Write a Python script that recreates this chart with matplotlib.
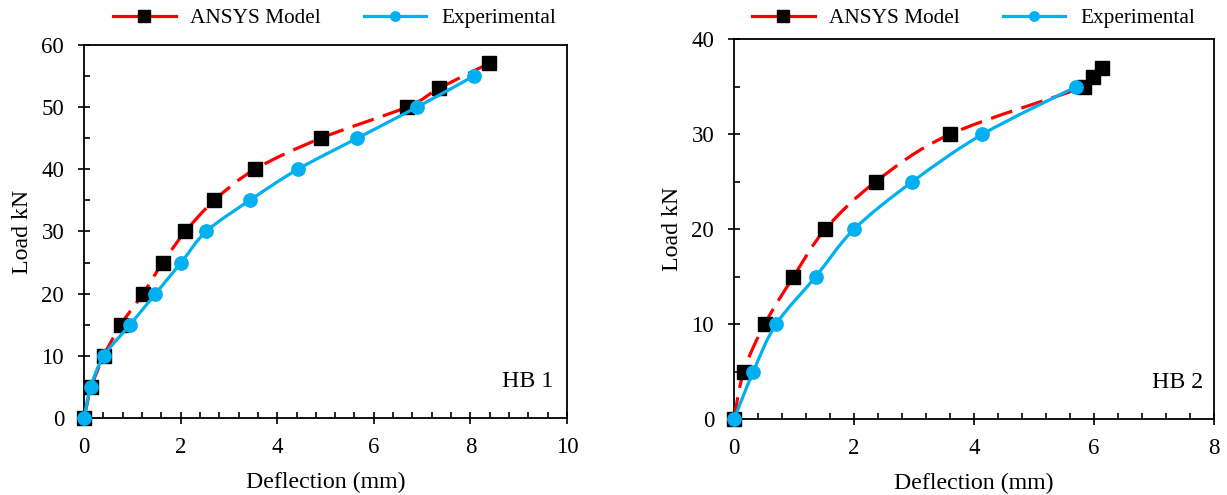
import numpy as np
import matplotlib
matplotlib.use("Agg")
import matplotlib.pyplot as plt
from matplotlib.path import Path
from matplotlib.patches import PathPatch
from matplotlib.lines import Line2D
from matplotlib.ticker import MultipleLocator

# ---------------- data ----------------
hb1_ansys_defl = [0, 0.15, 0.41, 0.76, 1.22, 1.63, 2.10, 2.70, 3.54, 4.91, 6.69, 7.35, 8.39]
hb1_ansys_load = [0, 5, 10, 15, 20, 25, 30, 35, 40, 45, 50, 53, 57]
hb1_exp_defl = [0, 0.14, 0.41, 0.95, 1.48, 2.01, 2.53, 3.43, 4.43, 5.66, 6.90, 8.08]
hb1_exp_load = [0, 5, 10, 15, 20, 25, 30, 35, 40, 45, 50, 55]

hb2_ansys_defl = [0, 0.16, 0.51, 0.99, 1.52, 2.36, 3.60, 5.83, 5.99, 6.13]
hb2_ansys_load = [0, 5, 10, 15, 20, 25, 30, 35, 36, 37]
hb2_exp_defl = [0, 0.32, 0.70, 1.36, 2.00, 2.97, 4.14, 5.70]
hb2_exp_load = [0, 5, 10, 15, 20, 25, 30, 35]

series_names = ["ANSYS Model", "Experimental"]
panel_labels = ["HB 1", "HB 2"]
x_label = "Deflection (mm)"
y_label = "Load kN"

RED = "#FF0000"
BLUE = "#00B0F0"
FS_TICK = 16.5
FS_LABEL = 17.2
FS_LEG = 15.3

plt.rcParams["font.family"] = ["Liberation Serif", "DejaVu Serif"]
plt.rcParams["font.size"] = FS_TICK

fig = plt.figure(figsize=(12.27, 4.95), dpi=100)
W, H = 1227.0, 495.0
ax1 = fig.add_axes([84 / W, 1 - 418.3 / H, 483 / W, 373.6 / H])
ax2 = fig.add_axes([734 / W, 1 - 419.3 / H, 480 / W, 380 / H])


def smooth_line(ax, xs, ys, **kw):
    """Excel-style smoothed line (cubic Bezier through the data points)."""
    pts = ax.transData.transform(np.column_stack([xs, ys]))
    n = len(pts)
    verts = [pts[0]]
    codes = [Path.MOVETO]
    for i in range(n - 1):
        p0 = pts[i - 1] if i > 0 else pts[i]
        p1 = pts[i]
        p2 = pts[i + 1]
        p3 = pts[i + 2] if i + 2 < n else pts[i + 1]
        c1 = p1 + (p2 - p0) / 6.0
        c2 = p2 - (p3 - p1) / 6.0
        verts += [c1, c2, p2]
        codes += [Path.CURVE4] * 3
    verts = ax.transData.inverted().transform(np.array(verts))
    patch = PathPatch(Path(verts, codes), fill=False, transform=ax.transData, **kw)
    ax.add_patch(patch)


def setup(ax, xmax, ymax):
    ax.set_xlim(0, xmax)
    ax.set_ylim(0, ymax)
    ax.xaxis.set_major_locator(MultipleLocator(2))
    ax.xaxis.set_minor_locator(MultipleLocator(0.4))
    ax.yaxis.set_major_locator(MultipleLocator(10))
    ax.yaxis.set_minor_locator(MultipleLocator(5))
    ax.tick_params(which="major", direction="inout", length=8.6, width=1.2,
                   labelsize=FS_TICK, pad=10, colors="black")
    ax.tick_params(which="minor", direction="in", length=4.3, width=1.2)
    ax.tick_params(axis="x", which="major", pad=9.5)
    for s in ax.spines.values():
        s.set_linewidth(1.3)
        s.set_color("black")
    ax.set_xlabel(x_label, fontsize=FS_LABEL, labelpad=10)
    ax.set_ylabel(y_label, fontsize=FS_LABEL, labelpad=6)


setup(ax1, 10, 60)
setup(ax2, 8, 40)

panels = [
    (ax1, hb1_ansys_defl, hb1_ansys_load, hb1_exp_defl, hb1_exp_load, panel_labels[0], 14),
    (ax2, hb2_ansys_defl, hb2_ansys_load, hb2_exp_defl, hb2_exp_load, panel_labels[1], 11),
]

for ax, ax_x, ax_y, ex_x, ex_y, lab, inset in panels:
    smooth_line(ax, ax_x, ax_y, edgecolor=RED, linewidth=2.3,
                linestyle=(0, (7.0, 3.0)), zorder=3, clip_on=False)
    ax.plot(ax_x, ax_y, linestyle="none", marker="s", markersize=10,
            color="black", zorder=4, clip_on=False)
    smooth_line(ax, ex_x, ex_y, edgecolor=BLUE, linewidth=2.3, zorder=5,
                clip_on=False)
    ax.plot(ex_x, ex_y, linestyle="none", marker="o", markersize=9.6,
            color=BLUE, zorder=6, clip_on=False)
    ax.annotate(lab, xy=(1, 0), xycoords="axes fraction",
                xytext=(-inset, 31), textcoords="offset pixels",
                ha="right", va="baseline", fontsize=FS_LABEL)

handles = [
    Line2D([], [], color=RED, linewidth=2.3, marker="s", markersize=8.4,
           markerfacecolor="black", markeredgecolor="black"),
    Line2D([], [], color=BLUE, linewidth=2.3, marker="o", markersize=6.8,
           markerfacecolor=BLUE, markeredgecolor=BLUE),
]
for cx in (334.5 / W, 973.5 / W):
    fig.legend(handles, series_names, loc="center", bbox_to_anchor=(cx, 1 - 18 / H),
               bbox_transform=fig.transFigure, ncol=2, frameon=False,
               fontsize=FS_LEG, handlelength=2.95, handletextpad=0.7,
               columnspacing=2.0, numpoints=1, borderpad=0.0)

fig.savefig("out.png", dpi=100)
